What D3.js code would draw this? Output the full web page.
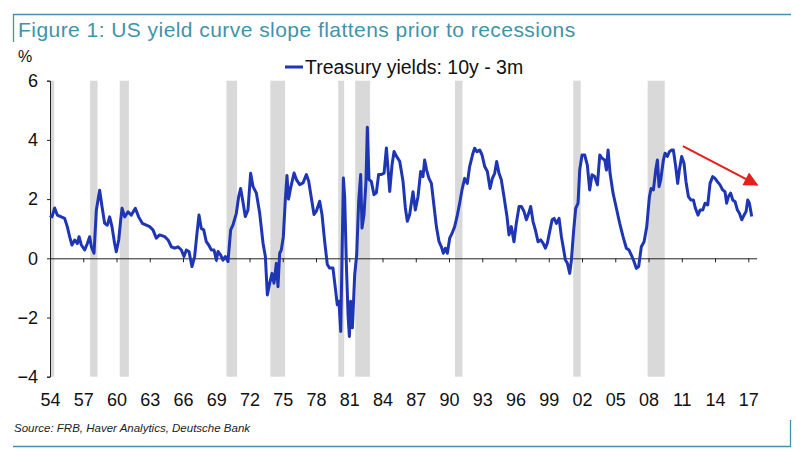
<!DOCTYPE html>
<html>
<head>
<meta charset="utf-8">
<script src="https://cdn.jsdelivr.net/npm/d3@7"></script>
<style>
  html, body { margin: 0; padding: 0; background: #fff; }
  svg { display: block; font-family: "Liberation Sans", Arial, sans-serif; }
</style>
</head>
<body>
<svg id="chart" width="800" height="454"></svg>
<script>
// ---- data ----
const title = "Figure 1: US yield curve slope flattens prior to recessions";
const seriesName = "Treasury yields: 10y - 3m";
const sourceText = "Source: FRB, Haver Analytics, Deutsche Bank";
const yUnit = "%";

const xTickYears = [1954,1957,1960,1963,1966,1969,1972,1975,1978,1981,1984,1987,1990,1993,1996,1999,2002,2005,2008,2011,2014,2017];
const xTickLabels = ["54","57","60","63","66","69","72","75","78","81","84","87","90","93","96","99","02","05","08","11","14","17"];
const yTicks = [-4,-2,0,2,4,6];

const recessionStart = [1953.50,1957.62,1960.29,1969.92,1973.88,1980.00,1981.54,1990.54,2001.21,2007.92];
const recessionEnd   = [1954.38,1958.29,1961.12,1970.88,1975.21,1980.54,1982.88,1991.21,2001.88,2009.46];

const spreadYears = [
1954.00,1954.18,1954.42,1954.66,1955.02,1955.32,1955.56,1955.77,1955.98,1956.23,1956.47,1956.62,1956.83,1957.13,1957.37,1957.58,1957.73,1957.97,
1958.18,1958.48,1958.69,1958.93,1959.17,1959.38,1959.59,1959.83,1959.98,1960.20,1960.38,1960.50,1960.74,1961.04,1961.34,1961.70,1962.00,1962.33,
1962.69,1962.99,1963.29,1963.59,1963.89,1964.35,1964.65,1964.95,1965.25,1965.55,1965.85,1966.09,1966.30,1966.54,1966.81,1967.05,1967.26,1967.44,
1967.65,1967.87,1968.10,1968.32,1968.56,1968.80,1969.01,1969.16,1969.40,1969.61,1969.82,1970.06,1970.30,1970.51,1970.81,1971.02,1971.20,1971.38,
1971.62,1971.86,1972.10,1972.32,1972.62,1972.92,1973.22,1973.43,1973.61,1973.82,1974.03,1974.21,1974.42,1974.57,1974.72,1974.87,1975.05,1975.23,
1975.38,1975.52,1975.71,1976.02,1976.23,1976.53,1976.83,1977.13,1977.34,1977.58,1977.82,1978.03,1978.33,1978.54,1978.78,1979.02,1979.23,1979.53,
1979.74,1979.92,1980.07,1980.23,1980.35,1980.47,1980.59,1980.74,1980.89,1981.01,1981.13,1981.28,1981.49,1981.67,1981.85,1982.03,1982.15,1982.33,
1982.51,1982.63,1982.78,1982.99,1983.23,1983.44,1983.65,1983.89,1984.14,1984.35,1984.50,1984.65,1984.86,1985.04,1985.25,1985.55,1985.85,1986.06,
1986.24,1986.45,1986.75,1986.96,1987.20,1987.44,1987.65,1987.80,1987.98,1988.19,1988.41,1988.65,1988.86,1989.10,1989.31,1989.49,1989.67,1989.85,
1990.06,1990.27,1990.51,1990.75,1990.96,1991.17,1991.41,1991.65,1991.86,1992.16,1992.31,1992.52,1992.77,1992.98,1993.22,1993.46,1993.70,1993.91,
1994.12,1994.30,1994.51,1994.72,1994.96,1995.23,1995.41,1995.62,1995.86,1996.07,1996.32,1996.53,1996.77,1996.98,1997.19,1997.37,1997.58,1997.79,
1998.03,1998.27,1998.48,1998.69,1998.87,1999.08,1999.30,1999.48,1999.69,1999.93,2000.14,2000.32,2000.50,2000.68,2000.89,2001.04,2001.25,2001.43,
2001.64,2001.79,2002.00,2002.24,2002.48,2002.69,2002.90,2003.14,2003.39,2003.60,2003.81,2004.05,2004.20,2004.35,2004.53,2004.80,2005.10,2005.40,
2005.70,2006.00,2006.24,2006.45,2006.69,2006.90,2007.11,2007.35,2007.60,2007.84,2008.08,2008.23,2008.44,2008.65,2008.80,2008.95,2009.10,2009.34,
2009.49,2009.70,2009.88,2010.09,2010.24,2010.45,2010.63,2010.78,2010.99,2011.20,2011.38,2011.60,2011.81,2012.05,2012.23,2012.46,2012.65,2012.89,
2013.10,2013.34,2013.55,2013.79,2014.00,2014.21,2014.45,2014.69,2014.90,2015.05,2015.20,2015.41,2015.60,2015.81,2016.02,2016.20,2016.41,2016.62,
2016.80,2016.95,2017.10,2017.31
];
const spreadValues = [
1.45,1.40,1.70,1.46,1.40,1.35,1.07,0.73,0.45,0.62,0.50,0.73,0.45,0.28,0.50,0.73,0.39,0.17,
1.63,2.30,1.75,1.18,1.12,1.40,1.07,0.50,0.22,0.62,1.30,1.69,1.40,1.57,1.46,1.69,1.40,1.18,
1.12,1.07,0.96,0.68,0.79,0.73,0.62,0.39,0.34,0.39,0.28,0.06,0.28,0.23,-0.28,0.06,0.84,1.46,
1.01,0.96,0.56,0.45,0.28,0.28,-0.06,0.23,0.11,-0.06,0.06,-0.11,0.96,1.13,1.52,2.08,2.36,1.97,
1.41,1.63,2.87,2.42,2.20,1.52,0.51,0.06,-1.24,-0.84,-0.51,-0.84,-0.17,-0.96,0.17,0.28,0.73,1.97,
2.80,2.00,2.38,2.88,2.66,2.49,2.55,2.83,2.60,2.04,1.48,1.59,1.93,1.48,0.57,-0.21,-0.33,-0.33,
-1.00,-1.57,-1.45,-2.47,0.12,2.71,2.04,-0.21,-1.90,-2.64,-1.45,-2.35,-0.55,0.12,1.93,2.83,1.02,1.48,
2.60,4.43,2.66,2.60,2.15,2.21,2.83,2.83,2.88,3.73,3.00,2.26,3.16,3.61,3.45,3.28,2.60,1.70,
1.25,1.48,2.25,1.63,2.08,2.93,2.76,3.32,2.98,2.70,2.53,1.75,1.07,0.56,0.39,0.17,0.34,0.17,
0.68,0.84,1.07,1.46,1.86,2.31,2.70,2.53,3.10,3.55,3.72,3.60,3.66,3.49,3.10,2.93,2.36,2.70,
2.87,3.27,2.87,2.65,2.08,1.41,0.79,1.07,0.56,1.18,1.75,1.75,1.58,1.30,1.52,1.75,1.24,0.96,
0.56,0.62,0.51,0.34,0.51,0.90,1.30,1.35,1.18,1.35,0.73,0.34,-0.06,-0.17,-0.51,-0.06,0.96,1.69,
1.86,2.98,3.49,3.49,3.15,2.31,2.82,2.76,2.48,3.49,3.38,3.32,2.98,3.66,2.87,2.20,1.69,1.18,
0.73,0.34,0.28,0.11,-0.11,-0.34,-0.28,0.39,0.56,1.07,2.08,2.36,2.31,2.98,3.32,2.42,2.65,3.32,
3.55,3.44,3.60,3.66,3.66,3.10,2.53,2.98,3.44,3.21,2.59,2.08,1.97,1.97,1.69,1.46,1.63,1.63,
1.86,1.80,2.53,2.76,2.70,2.59,2.48,2.31,2.25,1.86,2.08,2.20,1.97,1.91,1.63,1.52,1.30,1.46,
1.58,1.97,1.86,1.41
];

// trend arrow (in data units): start / end
const arrowFrom = [2011.1, 3.79];
const arrowTo   = [2017.8, 2.48];

// ---- drawing ----
const svg = d3.select("#chart");
const x = d3.scaleLinear().domain([1954, 2017.75]).range([50, 756.6]);
const y = d3.scaleLinear().domain([-4, 6]).range([376.7, 80.7]);

const teal = "#3f93ad";

// frame lines
svg.append("line").attr("x1", 13).attr("x2", 791).attr("y1", 14.5).attr("y2", 14.5)
  .attr("stroke", teal).attr("stroke-width", 1.3);
svg.append("line").attr("x1", 13.5).attr("x2", 13.5).attr("y1", 14).attr("y2", 42)
  .attr("stroke", teal).attr("stroke-width", 1.3);
svg.append("line").attr("x1", 13).attr("x2", 791).attr("y1", 446.5).attr("y2", 446.5)
  .attr("stroke", teal).attr("stroke-width", 1.3);
svg.append("line").attr("x1", 790.5).attr("x2", 790.5).attr("y1", 420).attr("y2", 447)
  .attr("stroke", teal).attr("stroke-width", 1.3);

// title
svg.append("text").attr("x", 18).attr("y", 37).attr("fill", teal)
  .attr("font-size", 21).attr("letter-spacing", 0.45).text(title);

// recession bands
const bands = recessionStart.map((s, i) => ({s: Math.max(s, 1954), e: recessionEnd[i]}));
svg.append("g").selectAll("rect").data(bands).join("rect")
  .attr("x", d => x(d.s)).attr("width", d => x(d.e) - x(d.s))
  .attr("y", y(6)).attr("height", y(-4) - y(6))
  .attr("fill", "#d9d9d9");

// y axis
const yAxis = svg.append("g").attr("transform", `translate(${x(1954)},0)`)
  .call(d3.axisLeft(y).tickValues(yTicks).tickSize(3).tickPadding(9).tickFormat(d3.format("d")));
yAxis.select(".domain").attr("stroke", "#222");
yAxis.selectAll(".tick line").attr("stroke", "#222");
yAxis.selectAll("text").attr("font-size", 18).attr("fill", "#111")
  .attr("font-family", "'Liberation Sans', Arial, sans-serif");

// zero line with ticks
const xAxis = svg.append("g").attr("transform", `translate(0,${y(0)})`)
  .call(d3.axisBottom(x).tickValues(xTickYears).tickSize(4).tickSizeOuter(0).tickFormat(""));
xAxis.select(".domain").attr("stroke", "#222");
xAxis.selectAll(".tick line").attr("stroke", "#222");

// x labels at bottom
const xLab = svg.append("g").attr("transform", `translate(0,391)`)
  .call(d3.axisBottom(x).tickValues(xTickYears).tickSize(0).tickPadding(0)
    .tickFormat((d, i) => xTickLabels[i]));
xLab.select(".domain").remove();
xLab.selectAll("text").attr("font-size", 18).attr("fill", "#111")
  .attr("font-family", "'Liberation Sans', Arial, sans-serif").attr("dy", "0.85em");

// unit label
svg.append("text").attr("x", 18).attr("y", 62).attr("font-size", 16).attr("fill", "#111").text(yUnit);

// series line
const pts = spreadYears.map((t, i) => ({t, v: spreadValues[i]}));
svg.append("path").datum(pts)
  .attr("fill", "none").attr("stroke", "#1e36b4").attr("stroke-width", 3)
  .attr("stroke-linejoin", "round")
  .attr("d", d3.line().x(d => x(d.t)).y(d => y(d.v)));

// legend
svg.append("line").attr("x1", 285).attr("x2", 303).attr("y1", 67).attr("y2", 67)
  .attr("stroke", "#1e36b4").attr("stroke-width", 3);
svg.append("text").attr("x", 305).attr("y", 74).attr("font-size", 19.5).attr("fill", "#111")
  .text(seriesName);

// red arrow
const defs = svg.append("defs");
defs.append("marker").attr("id", "ah").attr("viewBox", "0 0 10 10")
  .attr("refX", 9).attr("refY", 5).attr("markerWidth", 9).attr("markerHeight", 6.5)
  .attr("markerUnits", "strokeWidth").attr("orient", "auto")
  .append("path").attr("d", "M0,0 L10,5 L0,10 z").attr("fill", "#e6201c");
svg.append("line")
  .attr("x1", x(arrowFrom[0])).attr("y1", y(arrowFrom[1]))
  .attr("x2", x(arrowTo[0])).attr("y2", y(arrowTo[1]))
  .attr("stroke", "#e6201c").attr("stroke-width", 2.2).attr("marker-end", "url(#ah)");

// source
svg.append("text").attr("x", 14).attr("y", 432).attr("font-size", 11.5).attr("font-style", "italic")
  .attr("fill", "#222").text(sourceText);
</script>
</body>
</html>
